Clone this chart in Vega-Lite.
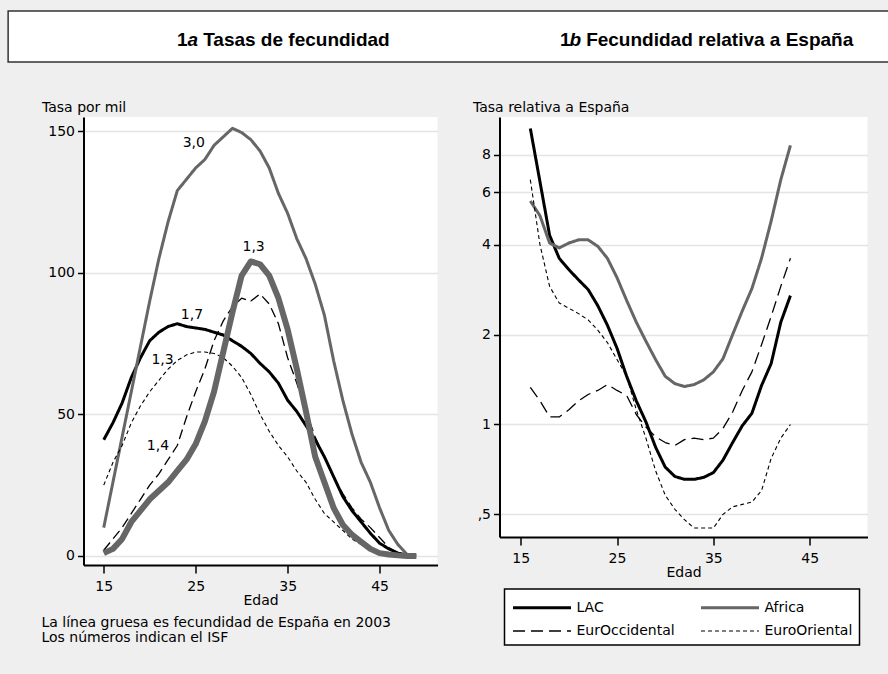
{
  "$schema": "https://vega.github.io/schema/vega-lite/v6.json",
  "background": "#efefef",
  "padding": {"left": 7, "top": 10, "right": 0, "bottom": 30},
  "config": {
    "font": "DejaVu Sans",
    "view": {"fill": "white", "stroke": null},
    "axis": {
      "labelFont": "DejaVu Sans", "labelFontSize": 14, "labelColor": "black",
      "titleFont": "DejaVu Sans", "titleFontSize": 14, "titleFontWeight": "normal", "titleColor": "black",
      "domainColor": "black", "domainWidth": 2, "tickColor": "black", "tickWidth": 1.5, "tickSize": 6,
      "gridColor": "#e4e4e4", "gridWidth": 1.5, "labelPadding": 3
    },
    "axisX": {"tickSize": 8, "labelPadding": 6},
    "legend": {"strokeWidth": 1.5}
  },
  "datasets": {
    "titulos": [
      {"panel": "a", "uno": "1", "letra": "a", "resto": "Tasas de fecundidad"},
      {"panel": "b", "uno": "1", "letra": "b", "resto": "Fecundidad relativa a España"}
    ],
    "isf": [
      {"edad": 24.8, "tasa": 145.7, "isf": "3,0"},
      {"edad": 31.3, "tasa": 109.2, "isf": "1,3"},
      {"edad": 24.6, "tasa": 85.2, "isf": "1,7"},
      {"edad": 21.4, "tasa": 69.2, "isf": "1,3"},
      {"edad": 20.9, "tasa": 38.9, "isf": "1,4"}
    ],
    "tasas": [
      {"edad": 15, "serie": "LAC", "tasa": 41}, {"edad": 16, "serie": "LAC", "tasa": 47}, {"edad": 17, "serie": "LAC", "tasa": 54}, {"edad": 18, "serie": "LAC", "tasa": 63}, {"edad": 19, "serie": "LAC", "tasa": 70}, {"edad": 20, "serie": "LAC", "tasa": 76}, {"edad": 21, "serie": "LAC", "tasa": 79}, {"edad": 22, "serie": "LAC", "tasa": 81}, {"edad": 23, "serie": "LAC", "tasa": 82}, {"edad": 24, "serie": "LAC", "tasa": 81}, {"edad": 25, "serie": "LAC", "tasa": 80.5}, {"edad": 26, "serie": "LAC", "tasa": 80}, {"edad": 27, "serie": "LAC", "tasa": 79}, {"edad": 28, "serie": "LAC", "tasa": 78}, {"edad": 29, "serie": "LAC", "tasa": 76}, {"edad": 30, "serie": "LAC", "tasa": 74}, {"edad": 31, "serie": "LAC", "tasa": 71.5}, {"edad": 32, "serie": "LAC", "tasa": 68}, {"edad": 33, "serie": "LAC", "tasa": 65}, {"edad": 34, "serie": "LAC", "tasa": 61}, {"edad": 35, "serie": "LAC", "tasa": 55}, {"edad": 36, "serie": "LAC", "tasa": 51}, {"edad": 37, "serie": "LAC", "tasa": 46}, {"edad": 38, "serie": "LAC", "tasa": 41}, {"edad": 39, "serie": "LAC", "tasa": 35}, {"edad": 40, "serie": "LAC", "tasa": 28}, {"edad": 41, "serie": "LAC", "tasa": 21}, {"edad": 42, "serie": "LAC", "tasa": 16}, {"edad": 43, "serie": "LAC", "tasa": 12}, {"edad": 44, "serie": "LAC", "tasa": 8}, {"edad": 45, "serie": "LAC", "tasa": 4.5}, {"edad": 46, "serie": "LAC", "tasa": 2.5}, {"edad": 47, "serie": "LAC", "tasa": 1}, {"edad": 48, "serie": "LAC", "tasa": 0.3},
      {"edad": 15, "serie": "Africa", "tasa": 10}, {"edad": 16, "serie": "Africa", "tasa": 26}, {"edad": 17, "serie": "Africa", "tasa": 42}, {"edad": 18, "serie": "Africa", "tasa": 58}, {"edad": 19, "serie": "Africa", "tasa": 74}, {"edad": 20, "serie": "Africa", "tasa": 90}, {"edad": 21, "serie": "Africa", "tasa": 105}, {"edad": 22, "serie": "Africa", "tasa": 118}, {"edad": 23, "serie": "Africa", "tasa": 129}, {"edad": 24, "serie": "Africa", "tasa": 133}, {"edad": 25, "serie": "Africa", "tasa": 137}, {"edad": 26, "serie": "Africa", "tasa": 140}, {"edad": 27, "serie": "Africa", "tasa": 145}, {"edad": 28, "serie": "Africa", "tasa": 148}, {"edad": 29, "serie": "Africa", "tasa": 151}, {"edad": 30, "serie": "Africa", "tasa": 149.5}, {"edad": 31, "serie": "Africa", "tasa": 147}, {"edad": 32, "serie": "Africa", "tasa": 143}, {"edad": 33, "serie": "Africa", "tasa": 137}, {"edad": 34, "serie": "Africa", "tasa": 128}, {"edad": 35, "serie": "Africa", "tasa": 121}, {"edad": 36, "serie": "Africa", "tasa": 112}, {"edad": 37, "serie": "Africa", "tasa": 105}, {"edad": 38, "serie": "Africa", "tasa": 96}, {"edad": 39, "serie": "Africa", "tasa": 85}, {"edad": 40, "serie": "Africa", "tasa": 69}, {"edad": 41, "serie": "Africa", "tasa": 55}, {"edad": 42, "serie": "Africa", "tasa": 43}, {"edad": 43, "serie": "Africa", "tasa": 33}, {"edad": 44, "serie": "Africa", "tasa": 26}, {"edad": 45, "serie": "Africa", "tasa": 17}, {"edad": 46, "serie": "Africa", "tasa": 9}, {"edad": 47, "serie": "Africa", "tasa": 4}, {"edad": 48, "serie": "Africa", "tasa": 0.5}, {"edad": 49, "serie": "Africa", "tasa": 0},
      {"edad": 15, "serie": "EurOccidental", "tasa": 2}, {"edad": 16, "serie": "EurOccidental", "tasa": 6}, {"edad": 17, "serie": "EurOccidental", "tasa": 10}, {"edad": 18, "serie": "EurOccidental", "tasa": 15}, {"edad": 19, "serie": "EurOccidental", "tasa": 20}, {"edad": 20, "serie": "EurOccidental", "tasa": 25}, {"edad": 21, "serie": "EurOccidental", "tasa": 29}, {"edad": 22, "serie": "EurOccidental", "tasa": 34}, {"edad": 23, "serie": "EurOccidental", "tasa": 39}, {"edad": 24, "serie": "EurOccidental", "tasa": 49}, {"edad": 25, "serie": "EurOccidental", "tasa": 58}, {"edad": 26, "serie": "EurOccidental", "tasa": 66}, {"edad": 27, "serie": "EurOccidental", "tasa": 76}, {"edad": 28, "serie": "EurOccidental", "tasa": 83}, {"edad": 29, "serie": "EurOccidental", "tasa": 88}, {"edad": 30, "serie": "EurOccidental", "tasa": 91}, {"edad": 31, "serie": "EurOccidental", "tasa": 90}, {"edad": 32, "serie": "EurOccidental", "tasa": 92.5}, {"edad": 33, "serie": "EurOccidental", "tasa": 89}, {"edad": 34, "serie": "EurOccidental", "tasa": 82}, {"edad": 35, "serie": "EurOccidental", "tasa": 70}, {"edad": 36, "serie": "EurOccidental", "tasa": 61}, {"edad": 37, "serie": "EurOccidental", "tasa": 51}, {"edad": 38, "serie": "EurOccidental", "tasa": 42}, {"edad": 39, "serie": "EurOccidental", "tasa": 35}, {"edad": 40, "serie": "EurOccidental", "tasa": 28}, {"edad": 41, "serie": "EurOccidental", "tasa": 22}, {"edad": 42, "serie": "EurOccidental", "tasa": 17}, {"edad": 43, "serie": "EurOccidental", "tasa": 13}, {"edad": 44, "serie": "EurOccidental", "tasa": 10}, {"edad": 45, "serie": "EurOccidental", "tasa": 6.5}, {"edad": 46, "serie": "EurOccidental", "tasa": 3}, {"edad": 47, "serie": "EurOccidental", "tasa": 1}, {"edad": 48, "serie": "EurOccidental", "tasa": 0},
      {"edad": 15, "serie": "EuroOriental", "tasa": 25}, {"edad": 16, "serie": "EuroOriental", "tasa": 33}, {"edad": 17, "serie": "EuroOriental", "tasa": 39}, {"edad": 18, "serie": "EuroOriental", "tasa": 47}, {"edad": 19, "serie": "EuroOriental", "tasa": 53}, {"edad": 20, "serie": "EuroOriental", "tasa": 58}, {"edad": 21, "serie": "EuroOriental", "tasa": 62}, {"edad": 22, "serie": "EuroOriental", "tasa": 66}, {"edad": 23, "serie": "EuroOriental", "tasa": 69}, {"edad": 24, "serie": "EuroOriental", "tasa": 71}, {"edad": 25, "serie": "EuroOriental", "tasa": 72}, {"edad": 26, "serie": "EuroOriental", "tasa": 72}, {"edad": 27, "serie": "EuroOriental", "tasa": 71.5}, {"edad": 28, "serie": "EuroOriental", "tasa": 70}, {"edad": 29, "serie": "EuroOriental", "tasa": 67}, {"edad": 30, "serie": "EuroOriental", "tasa": 63}, {"edad": 31, "serie": "EuroOriental", "tasa": 57}, {"edad": 32, "serie": "EuroOriental", "tasa": 50}, {"edad": 33, "serie": "EuroOriental", "tasa": 44}, {"edad": 34, "serie": "EuroOriental", "tasa": 39}, {"edad": 35, "serie": "EuroOriental", "tasa": 35}, {"edad": 36, "serie": "EuroOriental", "tasa": 30}, {"edad": 37, "serie": "EuroOriental", "tasa": 26}, {"edad": 38, "serie": "EuroOriental", "tasa": 20}, {"edad": 39, "serie": "EuroOriental", "tasa": 15}, {"edad": 40, "serie": "EuroOriental", "tasa": 12}, {"edad": 41, "serie": "EuroOriental", "tasa": 9}, {"edad": 42, "serie": "EuroOriental", "tasa": 6}, {"edad": 43, "serie": "EuroOriental", "tasa": 4}, {"edad": 44, "serie": "EuroOriental", "tasa": 2.5}, {"edad": 45, "serie": "EuroOriental", "tasa": 1.5}, {"edad": 46, "serie": "EuroOriental", "tasa": 0.8}, {"edad": 47, "serie": "EuroOriental", "tasa": 0.3},
      {"edad": 15, "serie": "España", "tasa": 1}, {"edad": 16, "serie": "España", "tasa": 2.5}, {"edad": 17, "serie": "España", "tasa": 6}, {"edad": 18, "serie": "España", "tasa": 12}, {"edad": 19, "serie": "España", "tasa": 16}, {"edad": 20, "serie": "España", "tasa": 20}, {"edad": 21, "serie": "España", "tasa": 23}, {"edad": 22, "serie": "España", "tasa": 26}, {"edad": 23, "serie": "España", "tasa": 30}, {"edad": 24, "serie": "España", "tasa": 34}, {"edad": 25, "serie": "España", "tasa": 39.5}, {"edad": 26, "serie": "España", "tasa": 47.5}, {"edad": 27, "serie": "España", "tasa": 58}, {"edad": 28, "serie": "España", "tasa": 72}, {"edad": 29, "serie": "España", "tasa": 86}, {"edad": 30, "serie": "España", "tasa": 99}, {"edad": 31, "serie": "España", "tasa": 104}, {"edad": 32, "serie": "España", "tasa": 103}, {"edad": 33, "serie": "España", "tasa": 99}, {"edad": 34, "serie": "España", "tasa": 91}, {"edad": 35, "serie": "España", "tasa": 80}, {"edad": 36, "serie": "España", "tasa": 66}, {"edad": 37, "serie": "España", "tasa": 51}, {"edad": 38, "serie": "España", "tasa": 35}, {"edad": 39, "serie": "España", "tasa": 26}, {"edad": 40, "serie": "España", "tasa": 17}, {"edad": 41, "serie": "España", "tasa": 11}, {"edad": 42, "serie": "España", "tasa": 7.5}, {"edad": 43, "serie": "España", "tasa": 5}, {"edad": 44, "serie": "España", "tasa": 2.5}, {"edad": 45, "serie": "España", "tasa": 1}, {"edad": 46, "serie": "España", "tasa": 0.5}, {"edad": 47, "serie": "España", "tasa": 0.2}, {"edad": 48, "serie": "España", "tasa": 0}, {"edad": 49, "serie": "España", "tasa": 0}
    ],
    "rel": [
      {"edad": 16, "serie": "LAC", "rel": 9.8}, {"edad": 17, "serie": "LAC", "rel": 6.5}, {"edad": 18, "serie": "LAC", "rel": 4.3}, {"edad": 19, "serie": "LAC", "rel": 3.6}, {"edad": 20, "serie": "LAC", "rel": 3.3}, {"edad": 21, "serie": "LAC", "rel": 3.05}, {"edad": 22, "serie": "LAC", "rel": 2.83}, {"edad": 23, "serie": "LAC", "rel": 2.5}, {"edad": 24, "serie": "LAC", "rel": 2.15}, {"edad": 25, "serie": "LAC", "rel": 1.8}, {"edad": 26, "serie": "LAC", "rel": 1.45}, {"edad": 27, "serie": "LAC", "rel": 1.2}, {"edad": 28, "serie": "LAC", "rel": 1.02}, {"edad": 29, "serie": "LAC", "rel": 0.84}, {"edad": 30, "serie": "LAC", "rel": 0.72}, {"edad": 31, "serie": "LAC", "rel": 0.67}, {"edad": 32, "serie": "LAC", "rel": 0.655}, {"edad": 33, "serie": "LAC", "rel": 0.655}, {"edad": 34, "serie": "LAC", "rel": 0.665}, {"edad": 35, "serie": "LAC", "rel": 0.69}, {"edad": 36, "serie": "LAC", "rel": 0.76}, {"edad": 37, "serie": "LAC", "rel": 0.87}, {"edad": 38, "serie": "LAC", "rel": 0.99}, {"edad": 39, "serie": "LAC", "rel": 1.09}, {"edad": 40, "serie": "LAC", "rel": 1.35}, {"edad": 41, "serie": "LAC", "rel": 1.6}, {"edad": 42, "serie": "LAC", "rel": 2.2}, {"edad": 43, "serie": "LAC", "rel": 2.7},
      {"edad": 16, "serie": "Africa", "rel": 5.6}, {"edad": 17, "serie": "Africa", "rel": 5.0}, {"edad": 18, "serie": "Africa", "rel": 4.05}, {"edad": 19, "serie": "Africa", "rel": 3.9}, {"edad": 20, "serie": "Africa", "rel": 4.05}, {"edad": 21, "serie": "Africa", "rel": 4.15}, {"edad": 22, "serie": "Africa", "rel": 4.15}, {"edad": 23, "serie": "Africa", "rel": 3.95}, {"edad": 24, "serie": "Africa", "rel": 3.6}, {"edad": 25, "serie": "Africa", "rel": 3.1}, {"edad": 26, "serie": "Africa", "rel": 2.6}, {"edad": 27, "serie": "Africa", "rel": 2.2}, {"edad": 28, "serie": "Africa", "rel": 1.9}, {"edad": 29, "serie": "Africa", "rel": 1.65}, {"edad": 30, "serie": "Africa", "rel": 1.45}, {"edad": 31, "serie": "Africa", "rel": 1.37}, {"edad": 32, "serie": "Africa", "rel": 1.34}, {"edad": 33, "serie": "Africa", "rel": 1.36}, {"edad": 34, "serie": "Africa", "rel": 1.41}, {"edad": 35, "serie": "Africa", "rel": 1.5}, {"edad": 36, "serie": "Africa", "rel": 1.66}, {"edad": 37, "serie": "Africa", "rel": 2.0}, {"edad": 38, "serie": "Africa", "rel": 2.4}, {"edad": 39, "serie": "Africa", "rel": 2.85}, {"edad": 40, "serie": "Africa", "rel": 3.6}, {"edad": 41, "serie": "Africa", "rel": 4.8}, {"edad": 42, "serie": "Africa", "rel": 6.6}, {"edad": 43, "serie": "Africa", "rel": 8.6},
      {"edad": 16, "serie": "EurOccidental", "rel": 1.33}, {"edad": 17, "serie": "EurOccidental", "rel": 1.2}, {"edad": 18, "serie": "EurOccidental", "rel": 1.06}, {"edad": 19, "serie": "EurOccidental", "rel": 1.06}, {"edad": 20, "serie": "EurOccidental", "rel": 1.12}, {"edad": 21, "serie": "EurOccidental", "rel": 1.2}, {"edad": 22, "serie": "EurOccidental", "rel": 1.26}, {"edad": 23, "serie": "EurOccidental", "rel": 1.3}, {"edad": 24, "serie": "EurOccidental", "rel": 1.36}, {"edad": 25, "serie": "EurOccidental", "rel": 1.3}, {"edad": 26, "serie": "EurOccidental", "rel": 1.25}, {"edad": 27, "serie": "EurOccidental", "rel": 1.08}, {"edad": 28, "serie": "EurOccidental", "rel": 0.98}, {"edad": 29, "serie": "EurOccidental", "rel": 0.91}, {"edad": 30, "serie": "EurOccidental", "rel": 0.87}, {"edad": 31, "serie": "EurOccidental", "rel": 0.85}, {"edad": 32, "serie": "EurOccidental", "rel": 0.89}, {"edad": 33, "serie": "EurOccidental", "rel": 0.9}, {"edad": 34, "serie": "EurOccidental", "rel": 0.89}, {"edad": 35, "serie": "EurOccidental", "rel": 0.9}, {"edad": 36, "serie": "EurOccidental", "rel": 0.97}, {"edad": 37, "serie": "EurOccidental", "rel": 1.1}, {"edad": 38, "serie": "EurOccidental", "rel": 1.3}, {"edad": 39, "serie": "EurOccidental", "rel": 1.5}, {"edad": 40, "serie": "EurOccidental", "rel": 1.85}, {"edad": 41, "serie": "EurOccidental", "rel": 2.3}, {"edad": 42, "serie": "EurOccidental", "rel": 2.9}, {"edad": 43, "serie": "EurOccidental", "rel": 3.6},
      {"edad": 16, "serie": "EuroOriental", "rel": 6.6}, {"edad": 17, "serie": "EuroOriental", "rel": 4.0}, {"edad": 18, "serie": "EuroOriental", "rel": 2.9}, {"edad": 19, "serie": "EuroOriental", "rel": 2.55}, {"edad": 20, "serie": "EuroOriental", "rel": 2.45}, {"edad": 21, "serie": "EuroOriental", "rel": 2.35}, {"edad": 22, "serie": "EuroOriental", "rel": 2.24}, {"edad": 23, "serie": "EuroOriental", "rel": 2.07}, {"edad": 24, "serie": "EuroOriental", "rel": 1.88}, {"edad": 25, "serie": "EuroOriental", "rel": 1.65}, {"edad": 26, "serie": "EuroOriental", "rel": 1.45}, {"edad": 27, "serie": "EuroOriental", "rel": 1.12}, {"edad": 28, "serie": "EuroOriental", "rel": 0.9}, {"edad": 29, "serie": "EuroOriental", "rel": 0.7}, {"edad": 30, "serie": "EuroOriental", "rel": 0.58}, {"edad": 31, "serie": "EuroOriental", "rel": 0.52}, {"edad": 32, "serie": "EuroOriental", "rel": 0.48}, {"edad": 33, "serie": "EuroOriental", "rel": 0.45}, {"edad": 34, "serie": "EuroOriental", "rel": 0.45}, {"edad": 35, "serie": "EuroOriental", "rel": 0.45}, {"edad": 36, "serie": "EuroOriental", "rel": 0.5}, {"edad": 37, "serie": "EuroOriental", "rel": 0.53}, {"edad": 38, "serie": "EuroOriental", "rel": 0.54}, {"edad": 39, "serie": "EuroOriental", "rel": 0.55}, {"edad": 40, "serie": "EuroOriental", "rel": 0.6}, {"edad": 41, "serie": "EuroOriental", "rel": 0.77}, {"edad": 42, "serie": "EuroOriental", "rel": 0.9}, {"edad": 43, "serie": "EuroOriental", "rel": 1.0}
    ]
  },
  "vconcat": [
    {
      "width": 934,
      "height": 51,
      "view": {"fill": "white", "stroke": "#333333", "strokeWidth": 1.5},
      "data": {"name": "titulos"},
      "encoding": {
        "x": {"field": "panel", "type": "nominal", "scale": {"type": "point", "domain": ["a", "b"], "range": [190, 573], "padding": 0}, "axis": null}
      },
      "layer": [
        {"mark": {"type": "text", "align": "left", "font": "Liberation Sans", "fontWeight": "bold", "fontSize": 19, "color": "black", "dy": 3, "dx": 5}, "encoding": {"text": {"field": "resto"}}},
        {"mark": {"type": "text", "align": "right", "font": "Liberation Sans", "fontWeight": "bold", "fontStyle": "italic", "fontSize": 19, "color": "black", "dy": 3}, "encoding": {"text": {"field": "letra"}}},
        {"mark": {"type": "text", "align": "right", "font": "Liberation Sans", "fontWeight": "bold", "fontSize": 19, "color": "black", "dy": 3, "dx": -10.5}, "encoding": {"text": {"field": "uno"}}}
      ]
    },
    {
      "hconcat": [
        {
          "width": 354,
          "height": 448,
          "title": {"text": ["La línea gruesa es fecundidad de España en 2003", "Los números indican el ISF"], "orient": "bottom", "anchor": "start", "frame": "bounds", "font": "DejaVu Sans", "fontSize": 14, "fontWeight": "normal", "color": "black", "offset": 9, "lineHeight": 15},
          "encoding": {
            "x": {"field": "edad", "type": "quantitative", "scale": {"domain": [12.8, 51.3], "nice": false, "zero": false}, "axis": {"values": [15, 25, 35, 45], "title": "Edad", "titlePadding": 0, "grid": false}},
            "y": {"field": "tasa", "type": "quantitative", "scale": {"domain": [-3.2, 155], "nice": false, "zero": false}, "axis": {"values": [0, 50, 100, 150], "title": "Tasa por mil", "titleAngle": 0, "titleAlign": "left", "titleBaseline": "alphabetic", "titleX": -42, "titleY": -6, "grid": true}}
          },
          "layer": [
            {
              "data": {"name": "tasas"},
              "transform": [{"filter": "datum.serie !== 'España'"}],
              "mark": {"type": "line", "strokeJoin": "round"},
              "encoding": {
                "color": {"field": "serie", "type": "nominal", "scale": {"domain": ["LAC", "Africa", "EurOccidental", "EuroOriental"], "range": ["black", "#666666", "black", "black"]}, "legend": null},
                "strokeDash": {"field": "serie", "type": "nominal", "scale": {"domain": ["LAC", "Africa", "EurOccidental", "EuroOriental"], "range": [[1, 0], [1, 0], [10, 5], [4, 3]]}, "legend": null},
                "strokeWidth": {"field": "serie", "type": "nominal", "scale": {"type": "ordinal", "domain": ["LAC", "Africa", "EurOccidental", "EuroOriental"], "range": [3, 3, 1.3, 1.1]}, "legend": null}
              }
            },
            {
              "data": {"name": "tasas"},
              "transform": [{"filter": "datum.serie === 'España'"}],
              "mark": {"type": "line", "color": "#666666", "strokeWidth": 6, "strokeJoin": "round"},
              "encoding": {}
            },
            {
              "data": {"name": "isf"},
              "mark": {"type": "text", "font": "DejaVu Sans", "fontSize": 14, "color": "black"},
              "encoding": {"text": {"field": "isf"}}
            }
          ]
        },
        {
          "width": 368,
          "height": 420,
          "encoding": {
            "x": {"field": "edad", "type": "quantitative", "scale": {"domain": [12.8, 51], "nice": false, "zero": false}, "axis": {"values": [15, 25, 35, 45], "title": "Edad", "titlePadding": 0, "grid": false}}
          },
          "layer": [
            {
              "mark": {"type": "rule", "color": "black", "strokeWidth": 1.5},
              "encoding": {"y": {"datum": 1, "type": "quantitative"}}
            },
            {
              "data": {"name": "rel"},
              "mark": {"type": "line", "strokeJoin": "round"},
              "encoding": {
                "y": {"field": "rel", "type": "quantitative", "scale": {"type": "log", "domain": [0.42, 10.7], "nice": false}, "axis": {"values": [0.5, 1, 2, 4, 6, 8], "labelExpr": "datum.value === 0.5 ? ',5' : datum.label", "title": "Tasa relativa a España", "titleAngle": 0, "titleAlign": "left", "titleBaseline": "alphabetic", "titleX": -27, "titleY": -6, "grid": true}},
                "color": {"field": "serie", "type": "nominal", "scale": {"domain": ["LAC", "Africa", "EurOccidental", "EuroOriental"], "range": ["black", "#666666", "black", "black"]},
                  "legend": {"orient": "none", "legendX": 5, "legendY": 472, "direction": "horizontal", "columns": 2, "title": null, "symbolType": "M-1,0H4.8", "symbolSize": 400, "labelFont": "DejaVu Sans", "labelFontSize": 14, "labelColor": "black", "labelLimit": 200, "columnPadding": 19, "rowPadding": 5, "padding": 7, "strokeColor": "black", "fillColor": "white", "labelOffset": 42}},
                "strokeDash": {"field": "serie", "type": "nominal", "scale": {"domain": ["LAC", "Africa", "EurOccidental", "EuroOriental"], "range": [[1, 0], [1, 0], [12, 6], [4, 3]]}},
                "strokeWidth": {"field": "serie", "type": "nominal", "scale": {"type": "ordinal", "domain": ["LAC", "Africa", "EurOccidental", "EuroOriental"], "range": [3, 3, 1.3, 1.1]}}
              }
            }
          ]
        }
      ],
      "spacing": 35,
      "resolve": {"scale": {"color": "independent", "strokeDash": "independent", "strokeWidth": "independent"}}
    }
  ],
  "spacing": 37,
  "center": true
}
